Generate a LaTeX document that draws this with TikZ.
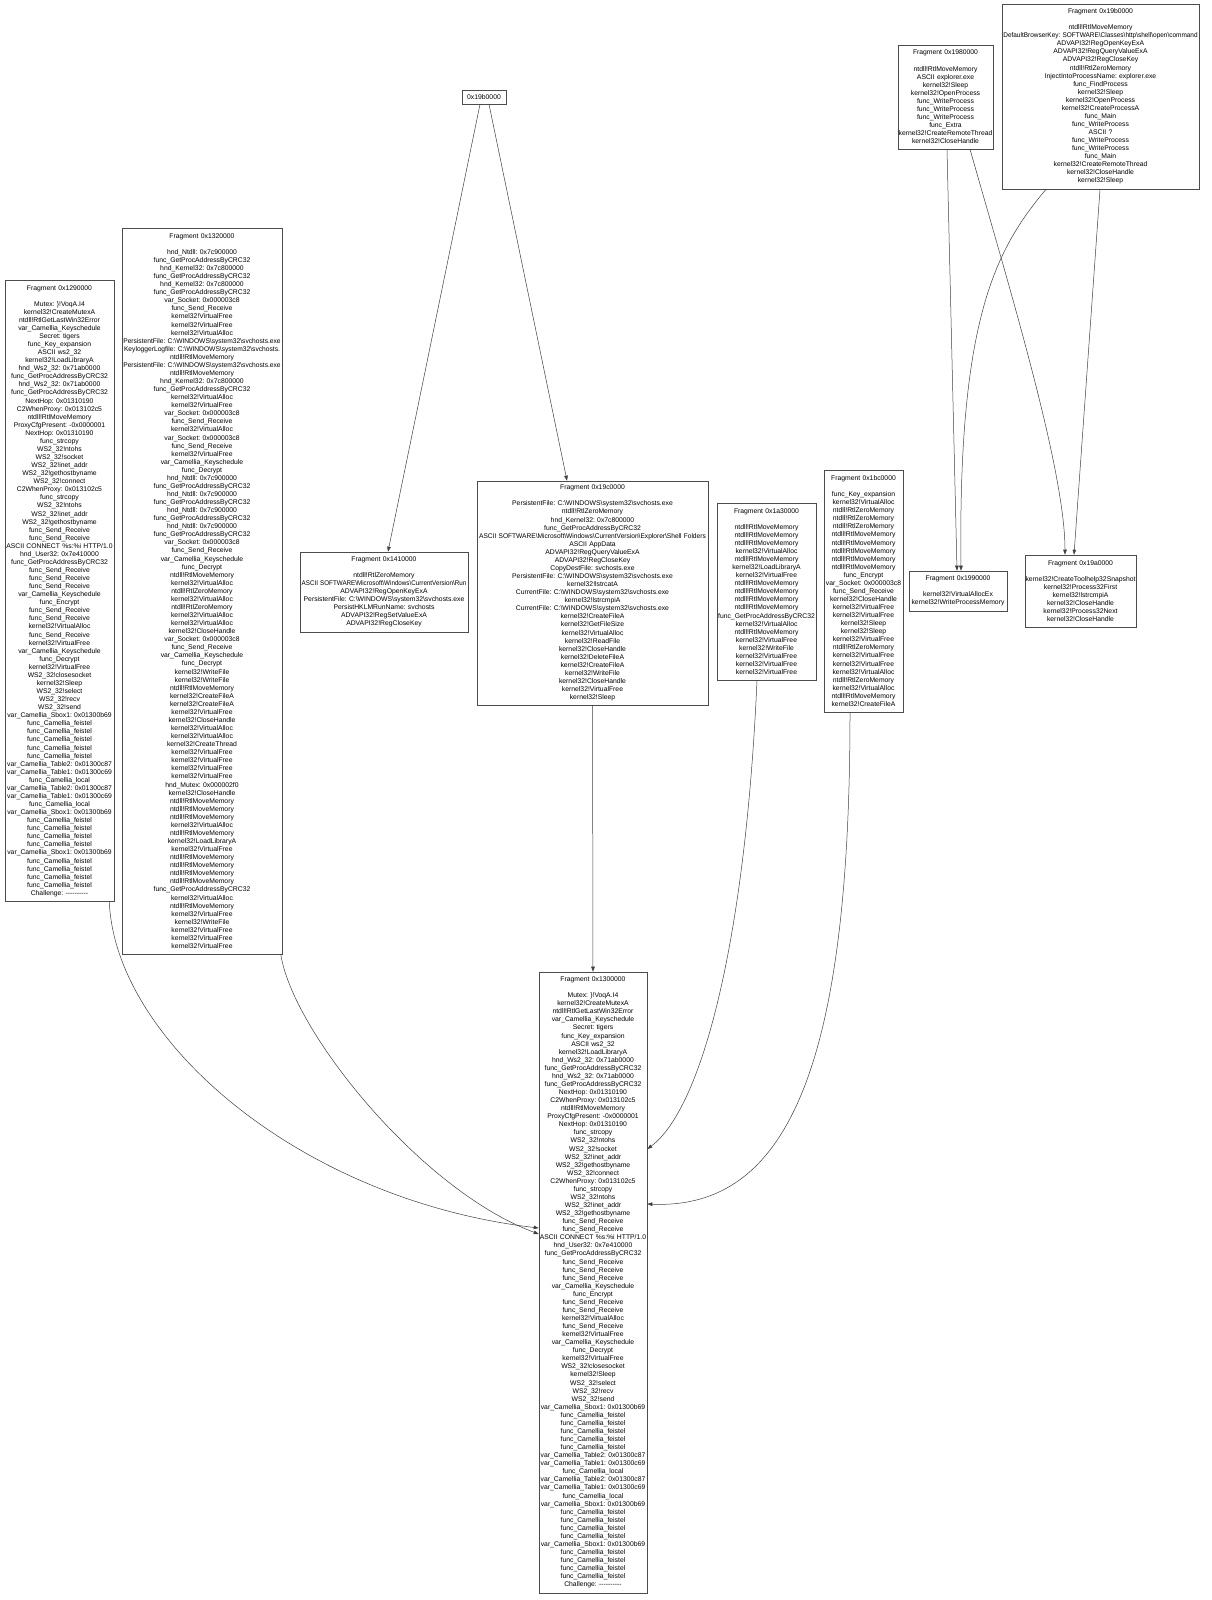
\documentclass[tikz,border=0pt]{standalone}
\usepackage{fontspec}
\usepackage{graphicx}
\usetikzlibrary{arrows.meta}
\newfontfamily\fragfont{Liberation Sans}
\newcommand{\bsl}{\textbackslash}
% call list shared by the two camellia fragments
\newcommand{\camlist}{Mutex: \}!VoqA.I4\\ kernel32!CreateMutexA\\ ntdll!RtlGetLastWin32Error\\ var\_Camellia\_Keyschedule\\
Secret: tigers\\ func\_Key\_expansion\\ ASCII ws2\_32\\ kernel32!LoadLibraryA\\ hnd\_Ws2\_32: 0x71ab0000\\
func\_GetProcAddressByCRC32\\ hnd\_Ws2\_32: 0x71ab0000\\ func\_GetProcAddressByCRC32\\ NextHop: 0x01310190\\
C2WhenProxy: 0x013102c5\\ ntdll!RtlMoveMemory\\ ProxyCfgPresent: -0x0000001\\ NextHop: 0x01310190\\
func\_strcopy\\ WS2\_32!ntohs\\ WS2\_32!socket\\ WS2\_32!inet\_addr\\ WS2\_32!gethostbyname\\ WS2\_32!connect\\
C2WhenProxy: 0x013102c5\\ func\_strcopy\\ WS2\_32!ntohs\\ WS2\_32!inet\_addr\\ WS2\_32!gethostbyname\\
func\_Send\_Receive\\ func\_Send\_Receive\\ ASCII CONNECT \%s:\%i HTTP/1.0\\ hnd\_User32: 0x7e410000\\
func\_GetProcAddressByCRC32\\ func\_Send\_Receive\\ func\_Send\_Receive\\ func\_Send\_Receive\\
var\_Camellia\_Keyschedule\\ func\_Encrypt\\ func\_Send\_Receive\\ func\_Send\_Receive\\ kernel32!VirtualAlloc\\
func\_Send\_Receive\\ kernel32!VirtualFree\\ var\_Camellia\_Keyschedule\\ func\_Decrypt\\ kernel32!VirtualFree\\
WS2\_32!closesocket\\ kernel32!Sleep\\ WS2\_32!select\\ WS2\_32!recv\\ WS2\_32!send\\
var\_Camellia\_Sbox1: 0x01300b69\\ func\_Camellia\_feistel\\ func\_Camellia\_feistel\\ func\_Camellia\_feistel\\
func\_Camellia\_feistel\\ func\_Camellia\_feistel\\ var\_Camellia\_Table2: 0x01300c87\\ var\_Camellia\_Table1: 0x01300c69\\
func\_Camellia\_local\\ var\_Camellia\_Table2: 0x01300c87\\ var\_Camellia\_Table1: 0x01300c69\\ func\_Camellia\_local\\
var\_Camellia\_Sbox1: 0x01300b69\\ func\_Camellia\_feistel\\ func\_Camellia\_feistel\\ func\_Camellia\_feistel\\
func\_Camellia\_feistel\\ var\_Camellia\_Sbox1: 0x01300b69\\ func\_Camellia\_feistel\\ func\_Camellia\_feistel\\
func\_Camellia\_feistel\\ func\_Camellia\_feistel\\ Challenge: ----------}

\begin{document}
\begin{tikzpicture}[x=1pt, y=-1pt,
  frag/.style={draw=black!70, line width=0.6pt, fill=white, inner sep=0pt, align=center,
    font=\fragfont\fontsize{6.8}{8.07}\selectfont\frenchspacing},
  edge/.style={draw=black!75, line width=0.5pt, -{Triangle[length=5pt,width=3.6pt]}}]

  % page
  \fill[white] (0,0) rectangle (1211,1600);
  \useasboundingbox (0,0) rectangle (1211,1600);

  % top row
  \node[frag, text width=44pt, minimum height=14pt] (s19b) at (484,97) {0x19b0000};
  \node[frag, text width=95pt, minimum height=104pt] (f1980) at (945.5,97) {Fragment 0x1980000\\[8.07pt]
    ntdll!RtlMoveMemory\\ ASCII explorer.exe\\ kernel32!Sleep\\ kernel32!OpenProcess\\ func\_WriteProcess\\
    func\_WriteProcess\\ func\_WriteProcess\\ func\_Extra\\ kernel32!CreateRemoteThread\\ kernel32!CloseHandle};
  \node[frag, text width=197pt, minimum height=185pt] (f19b0) at (1100.5,96.5) {Fragment 0x19b0000\\[8.07pt]
    ntdll!RtlMoveMemory\\
    \scalebox{0.95}[1]{DefaultBrowserKey: SOFTWARE\bsl Classes\bsl http\bsl shell\bsl open\bsl command}\\
    ADVAPI32!RegOpenKeyExA\\ ADVAPI32!RegQueryValueExA\\ ADVAPI32!RegCloseKey\\ ntdll!RtlZeroMemory\\
    InjectIntoProcessName: explorer.exe\\ func\_FindProcess\\ kernel32!Sleep\\ kernel32!OpenProcess\\
    kernel32!CreateProcessA\\ func\_Main\\ func\_WriteProcess\\ ASCII ?\\ func\_WriteProcess\\ func\_WriteProcess\\
    func\_Main\\ kernel32!CreateRemoteThread\\ kernel32!CloseHandle\\ kernel32!Sleep};

  % middle row
  \node[frag, text width=109pt, minimum height=621pt] (f1290) at (59.5,591) {Fragment 0x1290000\\[8.07pt]\camlist};
  \node[frag, text width=160pt, minimum height=726pt] (f1320) at (202,591) {Fragment 0x1320000\\[8.07pt]
    hnd\_Ntdll: 0x7c900000\\ func\_GetProcAddressByCRC32\\ hnd\_Kernel32: 0x7c800000\\ func\_GetProcAddressByCRC32\\
    hnd\_Kernel32: 0x7c800000\\ func\_GetProcAddressByCRC32\\ var\_Socket: 0x000003c8\\ func\_Send\_Receive\\
    kernel32!VirtualFree\\ kernel32!VirtualFree\\ kernel32!VirtualAlloc\\
    \scalebox{0.98}[1]{PersistentFile: C:\bsl WINDOWS\bsl system32\bsl svchosts.exe}\\
    \scalebox{0.98}[1]{KeyloggerLogfile: C:\bsl WINDOWS\bsl system32\bsl svchosts.}\\ ntdll!RtlMoveMemory\\
    \scalebox{0.98}[1]{PersistentFile: C:\bsl WINDOWS\bsl system32\bsl svchosts.exe}\\ ntdll!RtlMoveMemory\\
    hnd\_Kernel32: 0x7c800000\\ func\_GetProcAddressByCRC32\\ kernel32!VirtualAlloc\\ kernel32!VirtualFree\\
    var\_Socket: 0x000003c8\\ func\_Send\_Receive\\ kernel32!VirtualAlloc\\ var\_Socket: 0x000003c8\\
    func\_Send\_Receive\\ kernel32!VirtualFree\\ var\_Camellia\_Keyschedule\\ func\_Decrypt\\
    hnd\_Ntdll: 0x7c900000\\ func\_GetProcAddressByCRC32\\ hnd\_Ntdll: 0x7c900000\\ func\_GetProcAddressByCRC32\\
    hnd\_Ntdll: 0x7c900000\\ func\_GetProcAddressByCRC32\\ hnd\_Ntdll: 0x7c900000\\ func\_GetProcAddressByCRC32\\
    var\_Socket: 0x000003c8\\ func\_Send\_Receive\\ var\_Camellia\_Keyschedule\\ func\_Decrypt\\
    ntdll!RtlMoveMemory\\ kernel32!VirtualAlloc\\ ntdll!RtlZeroMemory\\ kernel32!VirtualAlloc\\
    ntdll!RtlZeroMemory\\ kernel32!VirtualAlloc\\ kernel32!VirtualAlloc\\ kernel32!CloseHandle\\
    var\_Socket: 0x000003c8\\ func\_Send\_Receive\\ var\_Camellia\_Keyschedule\\ func\_Decrypt\\
    kernel32!WriteFile\\ kernel32!WriteFile\\ ntdll!RtlMoveMemory\\ kernel32!CreateFileA\\ kernel32!CreateFileA\\
    kernel32!VirtualFree\\ kernel32!CloseHandle\\ kernel32!VirtualAlloc\\ kernel32!VirtualAlloc\\
    kernel32!CreateThread\\ kernel32!VirtualFree\\ kernel32!VirtualFree\\ kernel32!VirtualFree\\ kernel32!VirtualFree\\
    hnd\_Mutex: 0x000002f0\\ kernel32!CloseHandle\\ ntdll!RtlMoveMemory\\ ntdll!RtlMoveMemory\\ ntdll!RtlMoveMemory\\
    kernel32!VirtualAlloc\\ ntdll!RtlMoveMemory\\ kernel32!LoadLibraryA\\ kernel32!VirtualFree\\
    ntdll!RtlMoveMemory\\ ntdll!RtlMoveMemory\\ ntdll!RtlMoveMemory\\ ntdll!RtlMoveMemory\\
    func\_GetProcAddressByCRC32\\ kernel32!VirtualAlloc\\ ntdll!RtlMoveMemory\\ kernel32!VirtualFree\\
    kernel32!WriteFile\\ kernel32!VirtualFree\\ kernel32!VirtualFree\\ kernel32!VirtualFree};
  \node[frag, text width=168pt, minimum height=80pt] (f1410) at (384,592) {Fragment 0x1410000\\[8.07pt]
    ntdll!RtlZeroMemory\\
    \scalebox{0.92}[1]{ASCII SOFTWARE\bsl Microsoft\bsl Windows\bsl CurrentVersion\bsl Run}\\
    ADVAPI32!RegOpenKeyExA\\ PersistentFile: C:\bsl WINDOWS\bsl system32\bsl svchosts.exe\\
    PersistHKLMRunName: svchosts\\ ADVAPI32!RegSetValueExA\\ ADVAPI32!RegCloseKey};
  \node[frag, text width=231pt, minimum height=224pt] (f19c0) at (592.5,593) {Fragment 0x19c0000\\[8.07pt]
    PersistentFile: C:\bsl WINDOWS\bsl system32\bsl svchosts.exe\\ ntdll!RtlZeroMemory\\
    hnd\_Kernel32: 0x7c800000\\ func\_GetProcAddressByCRC32\\
    \scalebox{0.97}[1]{ASCII SOFTWARE\bsl Microsoft\bsl Windows\bsl CurrentVersion\bsl Explorer\bsl Shell Folders}\\
    ASCII AppData\\ ADVAPI32!RegQueryValueExA\\ ADVAPI32!RegCloseKey\\ CopyDestFile: svchosts.exe\\
    PersistentFile: C:\bsl WINDOWS\bsl system32\bsl svchosts.exe\\ kernel32!lstrcatA\\
    CurrentFile: C:\bsl WINDOWS\bsl system32\bsl svchosts.exe\\ kernel32!lstrcmpiA\\
    CurrentFile: C:\bsl WINDOWS\bsl system32\bsl svchosts.exe\\ kernel32!CreateFileA\\ kernel32!GetFileSize\\
    kernel32!VirtualAlloc\\ kernel32!ReadFile\\ kernel32!CloseHandle\\ kernel32!DeleteFileA\\
    kernel32!CreateFileA\\ kernel32!WriteFile\\ kernel32!CloseHandle\\ kernel32!VirtualFree\\ kernel32!Sleep};
  \node[frag, text width=99pt, minimum height=177pt] (f1a30) at (766.5,591.5) {Fragment 0x1a30000\\[8.07pt]
    ntdll!RtlMoveMemory\\ ntdll!RtlMoveMemory\\ ntdll!RtlMoveMemory\\ kernel32!VirtualAlloc\\
    ntdll!RtlMoveMemory\\ kernel32!LoadLibraryA\\ kernel32!VirtualFree\\ ntdll!RtlMoveMemory\\
    ntdll!RtlMoveMemory\\ ntdll!RtlMoveMemory\\ ntdll!RtlMoveMemory\\ func\_GetProcAddressByCRC32\\
    kernel32!VirtualAlloc\\ ntdll!RtlMoveMemory\\ kernel32!VirtualFree\\ kernel32!WriteFile\\
    kernel32!VirtualFree\\ kernel32!VirtualFree\\ kernel32!VirtualFree};
  \node[frag, text width=79pt, minimum height=242pt] (f1bc0) at (863.5,591) {Fragment 0x1bc0000\\[8.07pt]
    func\_Key\_expansion\\ kernel32!VirtualAlloc\\ ntdll!RtlZeroMemory\\ ntdll!RtlZeroMemory\\
    ntdll!RtlZeroMemory\\ ntdll!RtlMoveMemory\\ ntdll!RtlMoveMemory\\ ntdll!RtlMoveMemory\\
    ntdll!RtlMoveMemory\\ ntdll!RtlMoveMemory\\ func\_Encrypt\\ var\_Socket: 0x000003c8\\
    func\_Send\_Receive\\ kernel32!CloseHandle\\ kernel32!VirtualFree\\ kernel32!VirtualFree\\
    kernel32!Sleep\\ kernel32!Sleep\\ kernel32!VirtualFree\\ ntdll!RtlZeroMemory\\ kernel32!VirtualFree\\
    kernel32!VirtualFree\\ kernel32!VirtualAlloc\\ ntdll!RtlZeroMemory\\ kernel32!VirtualAlloc\\
    ntdll!RtlMoveMemory\\ kernel32!CreateFileA};
  \node[frag, text width=98pt, minimum height=40pt] (f1990) at (958,591) {Fragment 0x1990000\\[8.07pt]
    kernel32!VirtualAllocEx\\ kernel32!WriteProcessMemory};
  \node[frag, text width=111pt, minimum height=72pt] (f19a0) at (1080.5,591) {Fragment 0x19a0000\\[8.07pt]
    kernel32!CreateToolhelp32Snapshot\\ kernel32!Process32First\\ kernel32!lstrcmpiA\\
    kernel32!CloseHandle\\ kernel32!Process32Next\\ kernel32!CloseHandle};

  % bottom row
  \node[frag, text width=108pt, minimum height=621pt] (f1300) at (593,1282.5) {Fragment 0x1300000\\[8.07pt]\camlist};

  % edges from the top row
  \draw[edge] ([xshift=-4pt]s19b.south) -- ([xshift=4pt]f1410.north);
  \draw[edge] ([xshift=5pt]s19b.south) -- ([xshift=-25.5pt]f19c0.north);
  \draw[edge] ([xshift=1.5pt]f1980.south) -- ([xshift=-1pt]f1990.north);
  \draw[edge] ([xshift=24.5pt]f1980.south) .. controls (1010,290) and (1065,470) .. ([xshift=-15.5pt]f19a0.north);
  \draw[edge] ([xshift=-54.5pt]f19b0.south) .. controls (995,250) and (958,320) .. ([xshift=3pt]f1990.north);
  \draw[edge] ([xshift=-0.5pt]f19b0.south) -- ([xshift=-6.5pt]f19a0.north);

  % edges into 0x1300000
  \draw[edge] ([xshift=-5pt]f1290.south east) .. controls (115,1040) and (300,1200) .. ([yshift=54.5pt]f1300.west);
  \draw[edge] ([xshift=-1.5pt]f1320.south east) .. controls (292,1030) and (420,1190) .. ([yshift=48.5pt]f1300.west);
  \draw[edge] (f19c0.south) -- (f1300.north);
  \draw[edge] ([xshift=-9.5pt]f1a30.south) .. controls (745,950) and (700,1110) .. ([yshift=133.5pt]f1300.east);
  \draw[edge] ([xshift=-13.5pt]f1bc0.south) .. controls (850,1060) and (790,1210) .. ([yshift=78.5pt]f1300.east);

\end{tikzpicture}
\end{document}
